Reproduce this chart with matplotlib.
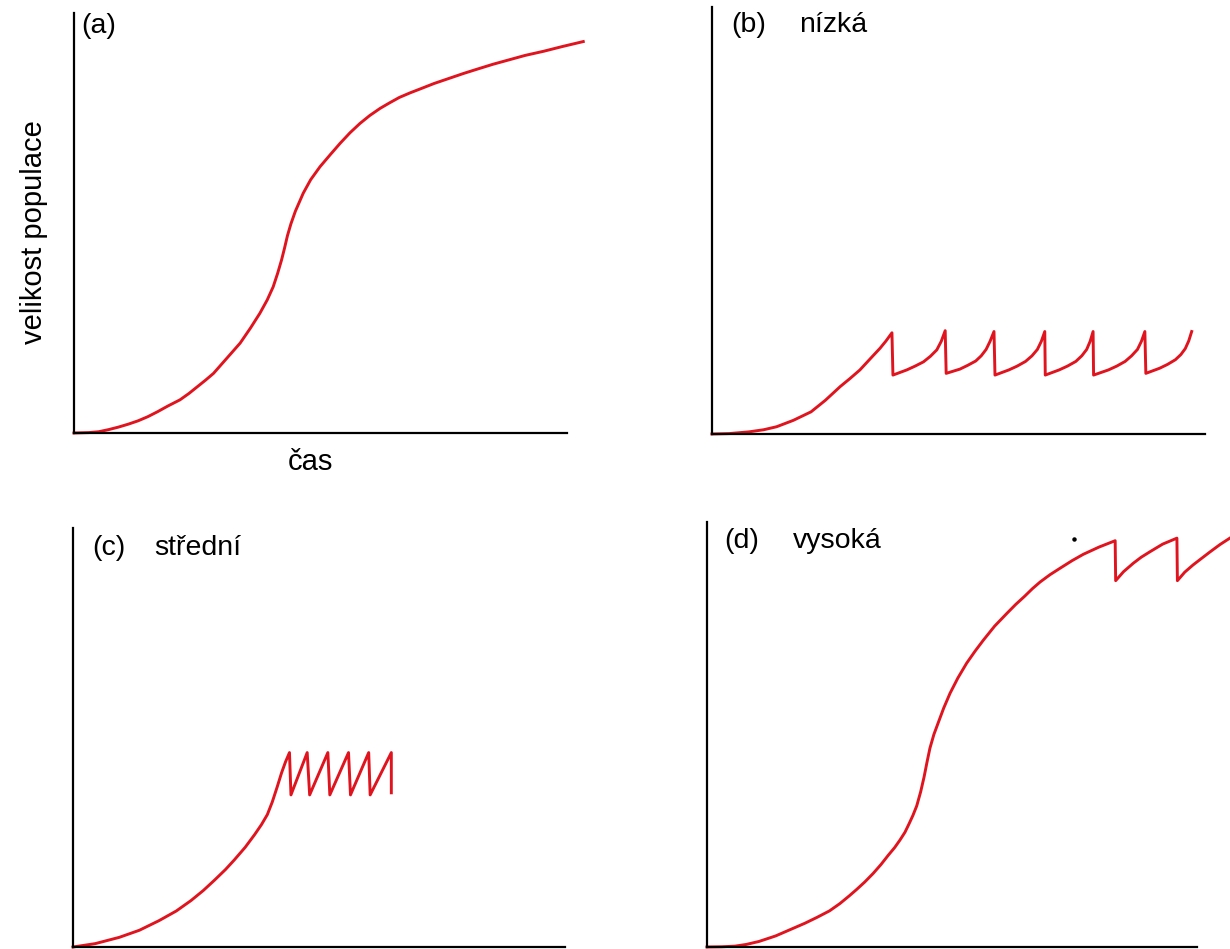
import matplotlib.pyplot as plt

plt.rcParams['font.family'] = ['Liberation Sans', 'DejaVu Sans']

# (a) logisticky rust
t_a = [0, 3, 5, 7, 9, 11, 13, 15, 17, 19, 21.5, 23.3, 25, 26.7, 28.3, 31, 33.7, 35.8,
       37.7, 39.2, 40.4, 41.3, 42.1, 42.7, 43.3, 44.0, 44.9, 46.5, 48.0, 49.9, 52.0,
       54.0, 56.0, 58.0, 60.0, 62.1, 64.0, 66.0, 68.2, 70.4, 73.0, 76.0, 79.0, 81.7,
       85.0, 88.1, 91.5, 95.3, 99.0, 103.3]
n_a = [0, 0.1, 0.3, 0.8, 1.4, 2.1, 2.9, 3.9, 5.1, 6.4, 7.9, 9.4, 11.0, 12.6, 14.2, 17.8,
       21.4, 25.0, 28.5, 31.7, 34.8, 38.0, 41.2, 44.0, 47.0, 49.8, 52.8, 57.1, 60.3,
       63.4, 66.3, 69.0, 71.5, 73.7, 75.6, 77.3, 78.6, 79.9, 81.0, 82.0, 83.2, 84.4,
       85.6, 86.6, 87.8, 88.8, 89.9, 90.9, 92.0, 93.2]

# (b) nizka
t_b = [0, 3.5, 7.5, 10.5, 13.1, 16.5, 20.1, 23.0, 26.0, 28.0, 30.0, 32.0, 34.1, 35.3, 36.5,
       36.7, 38.1, 39.5, 41.2, 42.9, 44.3, 45.6, 46.5, 47.3,
       47.5, 48.9, 50.3, 51.9, 53.5, 54.6, 55.6, 56.4, 57.2,
       57.4, 58.8, 60.2, 61.9, 63.6, 64.9, 66.0, 66.8, 67.5,
       67.6, 69.0, 70.4, 72.1, 73.8, 75.0, 76.0, 76.7, 77.3,
       77.4, 78.9, 80.4, 82.1, 83.8, 85.1, 86.3, 87.1, 87.8,
       88.0, 89.4, 90.8, 92.4, 94.0, 95.1, 96.0, 96.7, 97.3]
n_b = [0, 0.1, 0.5, 1.0, 1.7, 3.2, 5.2, 7.9, 11.1, 13.0, 15.0, 17.5, 20.1, 21.8, 23.7,
       13.8, 14.4, 15.0, 15.9, 16.9, 18.2, 19.7, 21.7, 24.2,
       14.2, 14.7, 15.2, 16.1, 17.1, 18.3, 19.8, 21.7, 24.0,
       13.8, 14.4, 15.0, 15.9, 17.0, 18.3, 19.8, 21.7, 24.0,
       13.8, 14.4, 15.0, 15.9, 17.0, 18.3, 19.8, 21.7, 24.0,
       13.8, 14.4, 15.0, 15.9, 17.0, 18.3, 19.8, 21.7, 24.0,
       14.2, 14.8, 15.4, 16.3, 17.4, 18.6, 20.0, 21.8, 24.0]

# (c) stredni
t_c = [0, 4.5, 9.4, 13.5, 17.5, 21.0, 24.0, 26.5, 28.8, 31.0, 32.8, 35.0, 36.9, 38.3,
       39.5, 40.5, 41.5, 42.4, 43.2, 44.0,
       44.3, 47.6, 48.1, 51.8, 52.2, 56.0, 56.4, 60.1, 60.4, 64.7, 64.7]
n_c = [0, 0.8, 2.3, 4.0, 6.3, 8.6, 11.1, 13.5, 16.0, 18.5, 20.8, 23.8, 26.8, 29.2,
       31.6, 34.6, 38.2, 41.6, 44.2, 46.4,
       36.3, 46.4, 36.3, 46.4, 36.3, 46.4, 36.3, 46.4, 36.3, 46.4, 36.8]

# (d) vysoka
t_d = [0, 3, 5.7, 8, 10.6, 14, 17.6, 20, 22.5, 25, 27.1, 29, 30.5, 32.2, 33.9, 35.5, 37.0,
       38.3, 39.4, 40.4, 41.2, 42.0, 42.8, 43.6, 44.3, 44.9, 45.5, 46.3, 47.2, 48.3,
       49.6, 51.2, 53.0, 54.7, 56.4, 58.7, 61.2, 63.0, 64.8, 66.4, 68.0, 70.0, 72.3,
       74.5, 76.8, 80.0, 83.3,
       83.4, 85.0, 87.0, 88.6, 90.4, 93.0, 95.9,
       96.0, 97.5, 99.2, 101.0, 102.7, 104.7, 106.7]
n_d = [0, 0.05, 0.2, 0.6, 1.3, 2.6, 4.4, 5.6, 7.0, 8.5, 10.2, 12.0, 13.5, 15.3, 17.3, 19.4,
       21.6, 23.4, 25.2, 27.0, 28.9, 30.9, 33.2, 36.5, 40.0, 43.5, 46.8, 50.0, 52.8,
       56.2, 59.7, 63.3, 66.8, 69.6, 72.2, 75.5, 78.5, 80.6, 82.5, 84.3, 85.9, 87.6,
       89.3, 90.9, 92.4, 94.1, 95.6,
       86.2, 88.3, 90.3, 91.7, 93.0, 94.8, 96.2,
       86.2, 88.2, 89.9, 91.5, 93.0, 94.7, 96.2]

panels = [
    # (levy, pravy, dolni, horni) v pixelech, data, popisky
    ((74, 567, 433, 13), t_a, n_a, '(a)', '', (0.014, 0.952), None),
    ((712, 1205, 434, 7), t_b, n_b, '(b)', 'nízká', (0.0385, 0.941), 0.176),
    ((73, 565, 947, 528), t_c, n_c, '(c)', 'střední', (0.0386, 0.936), 0.166),
    ((707, 1197, 947, 522), t_d, n_d, '(d)', 'vysoká', (0.036, 0.939), 0.176),
]

W, H = 1230, 949
fig = plt.figure(figsize=(W / 100, H / 100), dpi=100)
red = '#e0141e'

axes = []
for (l, r, b, t), x, y, tag, name, pos, name_x in panels:
    ax = fig.add_axes([l / W, 1 - b / H, (r - l) / W, (b - t) / H])
    ax.plot(x, y, color=red, lw=2.1, clip_on=False, solid_joinstyle='round')
    ax.set_xlim(0, 100)
    ax.set_ylim(0, 100)
    for s in ['top', 'right']:
        ax.spines[s].set_visible(False)
    for s in ['left', 'bottom']:
        ax.spines[s].set_linewidth(1.6)
        ax.spines[s].set_color('black')
    ax.set_xticks([])
    ax.set_yticks([])
    ax.patch.set_alpha(0)
    ax.text(pos[0], pos[1], tag, transform=ax.transAxes, fontsize=20.5,
            ha='left', va='baseline')
    if name:
        ax.text(name_x, pos[1], name, transform=ax.transAxes, fontsize=20.5,
                ha='left', va='baseline')
    axes.append(ax)

# drobna tecka v panelu (d)
axes[3].plot([74.8], [96.0], 'o', color='black', ms=2.2, clip_on=False)

fig.text(34 / W, 1 - 232 / H, 'velikost populace', rotation=90, fontsize=21,
         ha='center', va='center')
fig.text(310 / W, 1 - 462 / H, 'čas', fontsize=21, ha='center', va='center')

fig.savefig('out.png', dpi=100, facecolor='white')
